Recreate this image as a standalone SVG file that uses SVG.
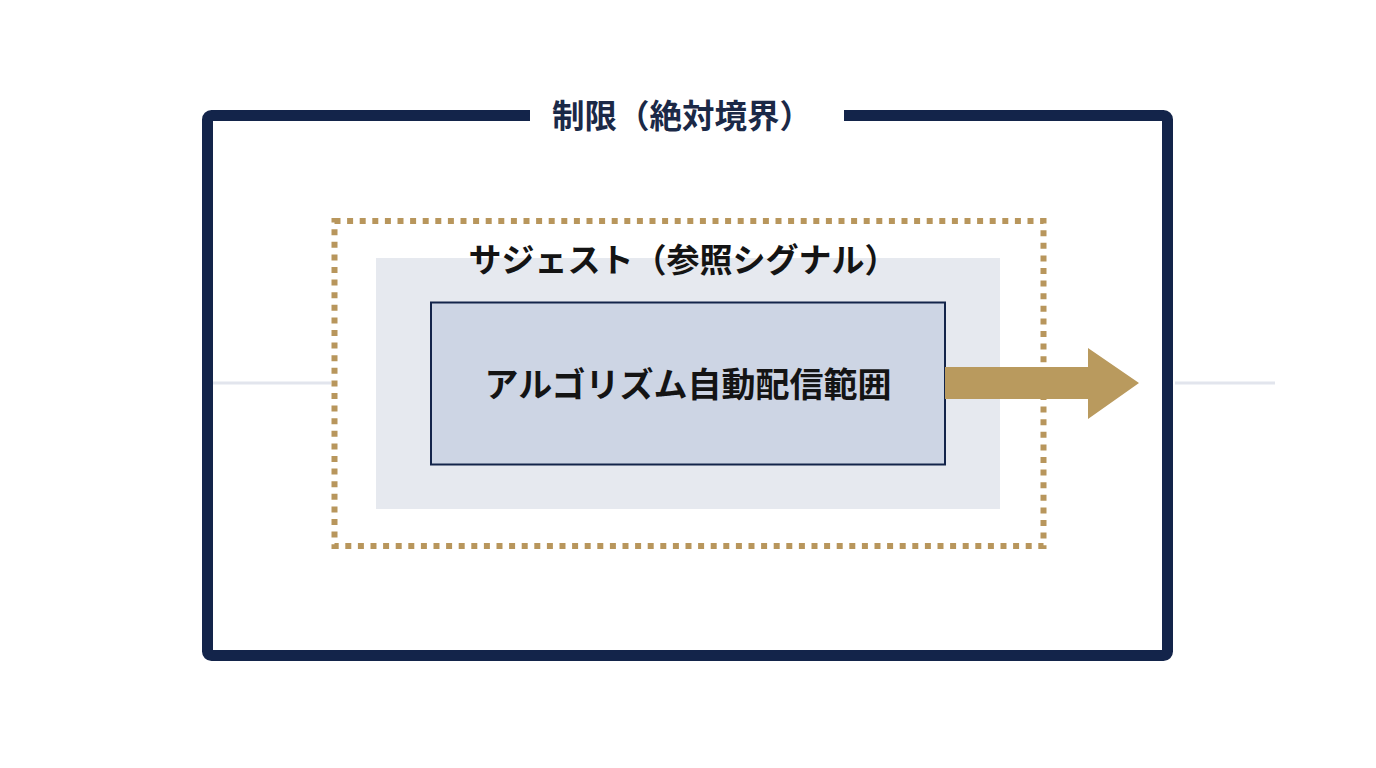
<svg xmlns="http://www.w3.org/2000/svg" width="1376" height="768" viewBox="0 0 1376 768">
  <style>
    .t { font-family: "Noto Sans CJK JP", "Noto Sans", sans-serif; font-weight: 700; text-anchor: middle; }
    .guide { stroke: #e2e5ed; stroke-width: 3; fill: none; }
  </style>
  <rect width="1376" height="768" fill="#ffffff"/>
  <g id="connectors">
    <line class="guide" x1="213" y1="383" x2="331" y2="383"/>
    <line class="guide" x1="1175" y1="383" x2="1275" y2="383"/>
  </g>
  <g id="limit">
    <rect x="207.5" y="115.5" width="960" height="540" rx="4" fill="none" stroke="#13244a" stroke-width="11"/>
    <rect x="530" y="105" width="314" height="22" fill="#ffffff"/>
    <text class="t" x="682" y="128" font-size="32.5" fill="#1b2947">制限（絶対境界）</text>
  </g>
  <g id="suggest">
    <rect x="334.5" y="221" width="709" height="325" fill="none" stroke="#b8965c" stroke-width="6" stroke-dasharray="6 6.6"/>
    <rect x="376" y="258" width="624" height="251" fill="#e6e9ef"/>
    <text class="t" x="683" y="272" font-size="33" fill="#141414">サジェスト（参照シグナル）</text>
  </g>
  <g id="algo">
    <rect x="431" y="302.5" width="514" height="162" fill="#cdd5e4" stroke="#13244a" stroke-width="2"/>
    <text class="t" x="688" y="397" font-size="34" fill="#141414">アルゴリズム自動配信範囲</text>
  </g>
  <g id="arrow">
    <path d="M945 367 H1088 V348 L1139 383 L1088 419 V399 H945 Z" fill="#b99a5e"/>
  </g>
</svg>
